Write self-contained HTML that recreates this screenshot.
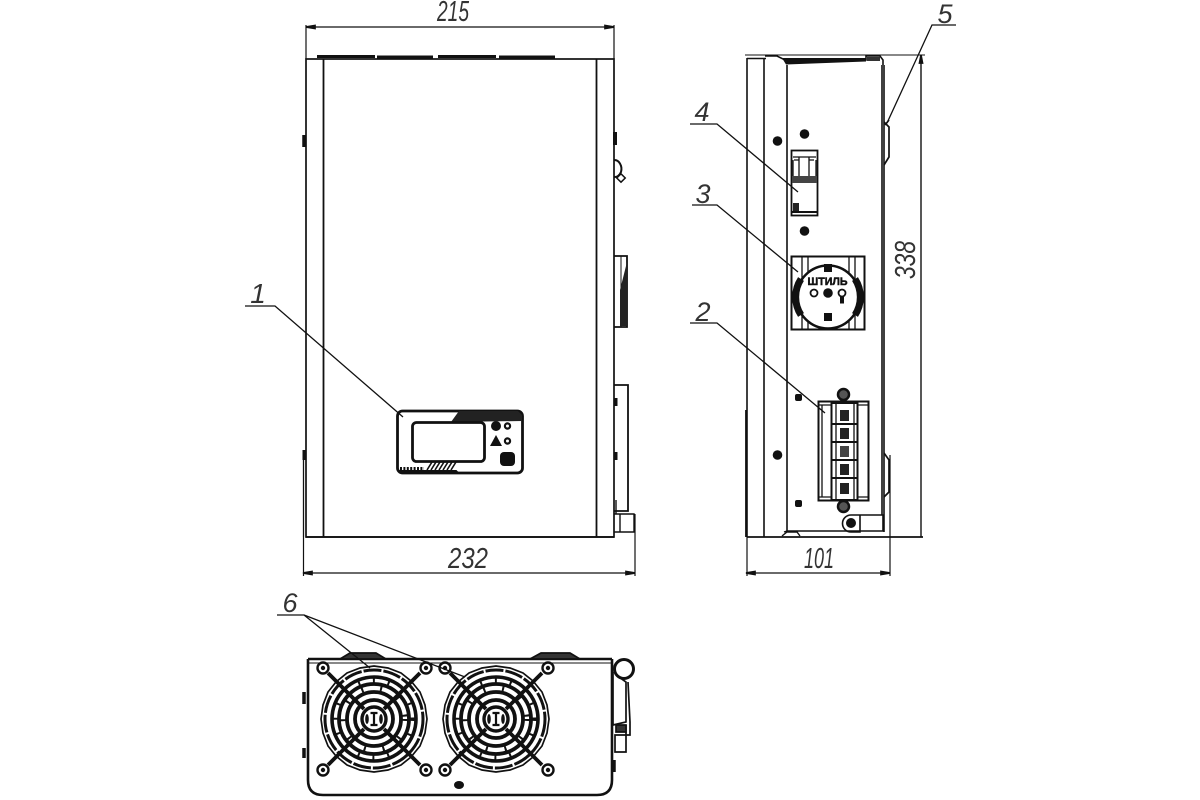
<!DOCTYPE html>
<html><head><meta charset="utf-8"><style>
html,body{margin:0;padding:0;background:#fff;width:1200px;height:800px;overflow:hidden}
svg{display:block}
text{font-family:"Liberation Sans",sans-serif;font-style:italic;fill:#333}
</style></head><body>
<svg width="1200" height="800" viewBox="0 0 1200 800" fill="none" stroke="#111" stroke-width="1.7">
<defs>
<g id="sc"><circle r="5.5" stroke-width="2.4"/><circle r="2.2" fill="#111" stroke="none"/></g>
<g id="fan">
<polygon points="53,0 51,14 46,27 37,38 27,46 14,51 0,53 -14,51 -27,46 -38,37 -46,27 -51,14 -53,0 -51,-14 -46,-27 -38,-37 -27,-46 -14,-51 0,-53 14,-51 27,-46 37,-38 46,-27 51,-14" stroke-width="1.7"/>
<circle r="49" stroke-width="3" stroke-dasharray="18 2"/>
<circle r="42" stroke-width="3.6"/>
<circle r="35" stroke-width="3.8"/>
<circle r="27" stroke-width="3.8"/>
<circle r="19" stroke-width="3.8"/>
<circle r="12" stroke-width="3.4"/>
<circle r="38.5" stroke-width="8" stroke-dasharray="2 13"/>
<circle r="31" stroke-width="6" stroke-dasharray="2 17"/>
<path d="M-46,-46 L-10,-10 M46,-46 L10,-10 M-46,46 L-10,10 M46,46 L10,10" stroke-width="3.8"/>
<path d="M-3.5,-6 H3.5 M-3.5,6 H3.5 M0,-6 V6" stroke-width="2.2"/>
<ellipse cx="-7" cy="0" rx="1.8" ry="5" fill="#111" stroke="none"/>
<ellipse cx="7" cy="0" rx="1.8" ry="5" fill="#111" stroke="none"/>
</g>
</defs>

<!-- FRONT VIEW -->
<rect x="306" y="59" width="308" height="478" fill="#fff"/>
<path d="M323.5,59 V537 M596.5,59 V537" stroke-width="1.8"/>
<path d="M317,56.5 H375 M377,57 H433 M438,56.5 H496 M499,57 H555" stroke-width="3"/>
<path d="M303.5,452 V537" stroke-width="1.3"/>
<path d="M304,135 v12" stroke-width="3.5"/>
<path d="M304,450 v10" stroke-width="3"/>
<path d="M615,132 v13" stroke-width="4"/>
<path d="M614,160 A7,9 0 0 1 621,172 A7,9 0 0 1 614,177" stroke-width="2"/>
<rect x="618" y="175" width="6" height="6" transform="rotate(45 621 178)" stroke-width="1.5"/>
<path d="M614,256 H627 V327 H614" stroke-width="1.8"/>
<path d="M621,256 V327" stroke-width="1"/>
<polygon points="620,290 627,262 627,326 620,326" fill="#222" stroke="none"/>
<path d="M614,385 H628 V511 H614" stroke-width="1.8"/>
<path d="M616,500 V514 M614,514 H634 V532 H614 M620,514 V532" stroke-width="1.4"/>
<path d="M616,398 v8 M616,452 v8" stroke-width="3"/>

<!-- display panel -->
<rect x="397.5" y="411" width="125" height="62" rx="5" stroke-width="2.8" fill="#fff"/>
<polygon points="459,411 518,411 522,415 522,421 451,422" fill="#222" stroke="none"/>
<rect x="412.5" y="422.5" width="72" height="39" rx="4" stroke-width="2.8" fill="#fff"/>
<path d="M400,469 H424" stroke-width="4" stroke-dasharray="2 1.4"/>
<path d="M427,470 l5,-8 M431,470 l5,-8 M435,470 l5,-8 M439,470 l5,-8 M443,470 l5,-8 M447,470 l5,-8 M451,470 l5,-8" stroke-width="1.6"/>
<path d="M398,471 H456 L458,473" stroke-width="2"/>
<circle cx="496" cy="426" r="5" fill="#111" stroke="none"/>
<circle cx="507.5" cy="426" r="2.6" stroke-width="2.2"/>
<polygon points="496,435 502,446 490,446" fill="#111" stroke="none"/>
<circle cx="507.5" cy="441" r="2.6" stroke-width="2.2"/>
<rect x="500" y="452" width="15" height="14" rx="4" fill="#111" stroke="none"/>

<!-- dims front -->
<path d="M306,25 V59 M614,25 V59 M306,27 H614" stroke-width="1.2"/>
<path d="M306,27 l9,-1.5 v3 Z M614,27 l-9,-1.5 v3 Z" fill="#111"/>
<path d="M303.5,537 V576 M635,514 V576 M303,573 H635" stroke-width="1.2"/>
<path d="M303,573 l9,-1.5 v3 Z M635,573 l-9,-1.5 v3 Z" fill="#111"/>
<path d="M306,537 H614" stroke-width="1.8"/>
<text x="453" y="21" font-size="29" text-anchor="middle" textLength="32" lengthAdjust="spacingAndGlyphs" stroke="none">215</text>
<text x="468" y="568" font-size="29" text-anchor="middle" textLength="40" lengthAdjust="spacingAndGlyphs" stroke="none">232</text>

<!-- leader 1 -->
<path d="M245,306 H275 L403,417" stroke-width="1.3"/>
<text x="258" y="303" font-size="28" text-anchor="middle" stroke="none">1</text>

<!-- SIDE VIEW -->
<path d="M747,58 V537 M764,58 V537 M787,65 V531 M882,65 V515 M884,65 V532" stroke-width="1.6"/>
<path d="M747,58.5 H766 M765,56 H777 L785,60 H866 V56 H880 L883,60 V65" stroke-width="1.6"/>
<polygon points="782,58 866,58 866,61.5 786,64.5" fill="#111" stroke="none"/>
<rect x="867" y="57" width="13" height="4" fill="#333" stroke="none"/>
<path d="M745,55 H925" stroke-width="1"/>
<path d="M747,537 H923" stroke-width="1.8"/>
<path d="M787,531 H884 M784,532 L787,531 M782,536 L787,532 H797 L800,536" stroke-width="1.4"/>
<path d="M921,55 V537" stroke-width="1.4"/>
<path d="M921,55 l-1.5,8 h3 Z" fill="#111"/>
<path d="M746,410 V537 M746,455 v18" stroke-width="1.8"/>
<path d="M889,120 L885,125 M884,122 L889,127 V157 L884,165" stroke-width="1.7"/>
<path d="M884,453 L889,460 V492 L884,497" stroke-width="1.7"/>
<g fill="#111" stroke="none">
<circle cx="777.5" cy="141" r="4.8"/><circle cx="804.5" cy="134" r="4.8"/><circle cx="804.5" cy="231" r="4.8"/>
<circle cx="777.5" cy="455" r="4.8"/><rect x="795" y="394" width="7" height="7" rx="2"/><rect x="795" y="500" width="7" height="7" rx="2"/>
</g>
<!-- breaker -->
<rect x="791.5" y="150.5" width="26" height="65" stroke-width="1.8" fill="#fff"/>
<path d="M793,157 H816 M799,157 V176 M809,157 V176 M794,160 h5 M809,160 h5 M793,160 V176 M816,160 V176" stroke-width="1.3"/>
<rect x="792" y="176" width="25" height="7" fill="#444" stroke="none"/>
<rect x="793" y="203" width="6" height="8" fill="#222" stroke="none"/>
<path d="M792,212 H817" stroke-width="2"/>
<!-- socket -->
<rect x="791.5" y="256.5" width="73" height="73" stroke-width="2" fill="#fff"/>
<path d="M802,257 V329 M808,257 V329 M849,257 V329 M855,257 V329" stroke-width="1.3"/>
<circle cx="828" cy="297" r="32" fill="#fff" stroke="none"/>
<circle cx="828" cy="297" r="31.5" stroke-width="2.5"/>
<path d="M801,279 A 33 33 0 0 0 801,315" stroke-width="7"/>
<path d="M855,279 A 33 33 0 0 1 855,315" stroke-width="7"/>
<rect x="824" y="264" width="8" height="8" fill="#111" stroke="none"/>
<rect x="824" y="313" width="8" height="8" fill="#111" stroke="none"/>
<text x="827.5" y="285" font-size="11" font-weight="bold" text-anchor="middle" textLength="40" lengthAdjust="spacingAndGlyphs" style="font-style:normal;font-family:'Liberation Sans','Noto Sans CJK SC',sans-serif;fill:#111" stroke="#111" stroke-width=".5">ШТИЛЬ</text>
<circle cx="814" cy="293" r="3.5" stroke-width="1.8"/>
<circle cx="828" cy="293" r="4.8" fill="#111" stroke="none"/>
<circle cx="842" cy="293" r="3.5" stroke-width="1.8"/>
<rect x="840" y="297" width="4" height="6.5" fill="#111" stroke="none"/>
<!-- terminal -->
<rect x="818.5" y="401.5" width="50" height="99" stroke-width="2" fill="#fff"/>
<path d="M818,405 H869 M818,497 H869 M822,405 V497" stroke-width="1.3"/>
<rect x="831.5" y="403" width="26" height="97" stroke-width="2" fill="#fff"/>
<path d="M836,403 V500 M854,403 V500" stroke-width="1.3"/>
<path d="M832,424 H857 M832,442 H857 M832,460 H857 M832,478 H857" stroke-width="2"/>
<g fill="#222" stroke="none">
<rect x="840" y="410" width="9" height="11"/><rect x="840" y="428" width="9" height="11"/><rect x="840" y="446" width="9" height="11" opacity=".85"/><rect x="840" y="464" width="9" height="11"/><rect x="840" y="483" width="9" height="11"/>
</g>
<circle cx="843.5" cy="394.5" r="5.5" stroke-width="2.5" fill="#555"/>
<circle cx="843.5" cy="506.5" r="5.5" stroke-width="2.5" fill="#555"/>
<!-- bracket -->
<path d="M860,515 H851 A8.5,8.5 0 0 0 851,532 H860 V515 H883 V531" stroke-width="1.6"/>
<circle cx="851" cy="523" r="5" fill="#111" stroke="none"/>
<!-- dims side -->
<path d="M747,537 V576 M890,455 V576 M746,573 H890" stroke-width="1.2"/>
<path d="M746,573 l9,-1.5 v3 Z M890,573 l-9,-1.5 v3 Z" fill="#111"/>
<text x="819" y="568" font-size="29" text-anchor="middle" textLength="30" lengthAdjust="spacingAndGlyphs" stroke="none">101</text>
<text transform="translate(915,260) rotate(-90)" font-size="29" text-anchor="middle" textLength="38" lengthAdjust="spacingAndGlyphs" stroke="none">338</text>
<!-- leaders -->
<path d="M690,124 H717 L798,192" stroke-width="1.3"/>
<text x="702" y="121" font-size="27" text-anchor="middle" stroke="none">4</text>
<path d="M692,205 H717 L798,272" stroke-width="1.3"/>
<text x="703" y="203" font-size="27" text-anchor="middle" stroke="none">3</text>
<path d="M690,323 H717 L825,413" stroke-width="1.3"/>
<text x="703" y="321" font-size="27" text-anchor="middle" stroke="none">2</text>
<path d="M956,25 H932 L887,123" stroke-width="1.3"/>
<text x="945" y="23" font-size="27" text-anchor="middle" stroke="none">5</text>

<!-- BOTTOM VIEW -->
<path d="M308,659 H612 M308,659 V780 Q308,795 323,795 H597 Q612,795 612,780 V659" stroke-width="2.6"/>
<path d="M308,663 H612" stroke-width="1"/>
<path d="M340,659 L350,653 H376 L386,659 Z M530,659 L541,653 H570 L580,659 Z" fill="#333"/>
<path d="M304,692 v12 M304,748 v10 M614,760 v12" stroke-width="3.5"/>
<use href="#fan" x="374" y="719"/>
<use href="#fan" x="496" y="719"/>
<g>
<use href="#sc" x="323" y="668"/><use href="#sc" x="426" y="668"/><use href="#sc" x="323" y="770"/><use href="#sc" x="426" y="770"/>
<use href="#sc" x="445" y="668"/><use href="#sc" x="548" y="668"/><use href="#sc" x="445" y="770"/><use href="#sc" x="548" y="770"/>
</g>
<ellipse cx="459" cy="785" rx="5" ry="4" fill="#111" stroke="none"/>
<circle cx="624" cy="669" r="9.5" stroke-width="3"/>
<path d="M613,672 V725 L626,722 V682 L619,677 M628,682 L630,722 V735 H615 V752 H626 V725" stroke-width="1.7"/>
<path d="M616,725 H626 V732 H616 Z" fill="#333"/>
<path d="M277,615 H304 L370,668 M304,615 L465,677" stroke-width="1.3"/>
<text x="290" y="612" font-size="27" text-anchor="middle" stroke="none">6</text>
</svg>
</body></html>
